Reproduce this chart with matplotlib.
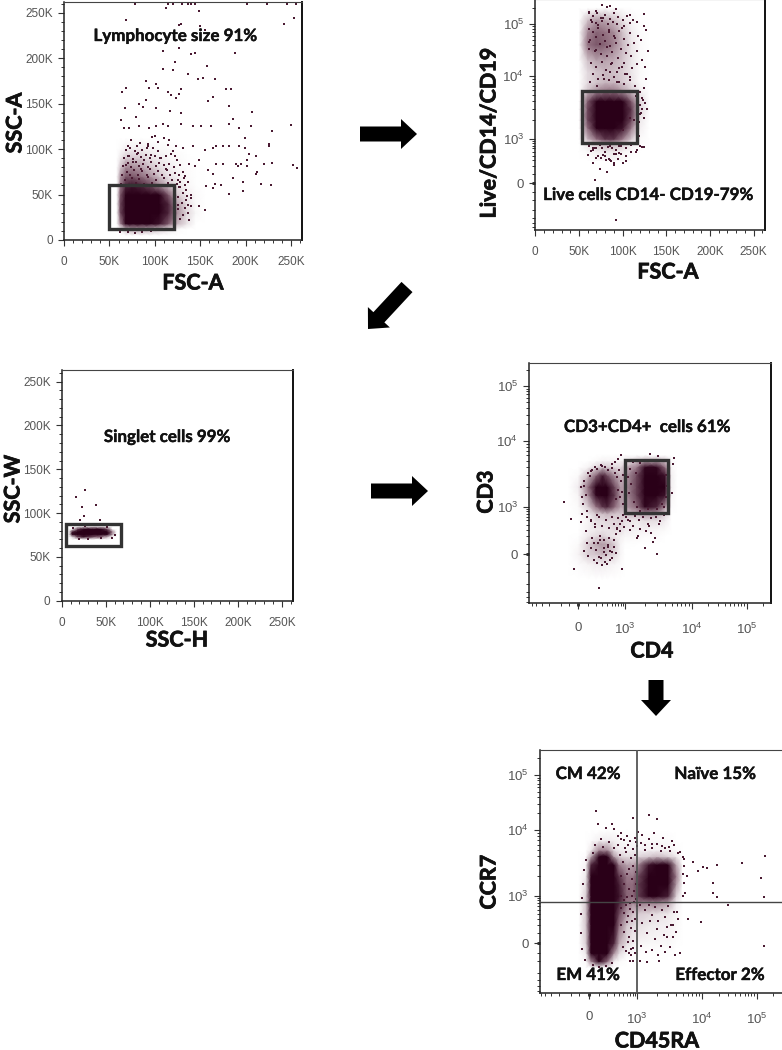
from matplotlib import pyplot as plt
from matplotlib.colors import LinearSegmentedColormap
from matplotlib.patches import FancyArrow, Rectangle
from matplotlib import patheffects
import numpy as np

W, H = 782, 1050
DOT = "#4a1a32"
CORE = "#2a0018"
LABEL = "#555555"

LIN_TICKS = [0, 50000, 100000, 150000, 200000, 250000]
LIN_LABELS = ["0", "50K", "100K", "150K", "200K", "250K"]
LIN_MINOR = list(range(0, 261000, 10000))
LOG_TICKS = [0, 1000, 10000, 100000]
LOG_LABELS = ["0", r"$\mathregular{10^{3}}$", r"$\mathregular{10^{4}}$", r"$\mathregular{10^{5}}$"]
LOG_MINOR = [-1000, -800, -600, -400, -200, -100, -10, 10, 100, 200, 300, 400, 500, 600, 700, 800, 900,
             2000, 3000, 4000, 5000, 6000, 7000, 8000, 9000,
             20000, 30000, 40000, 50000, 60000, 70000, 80000, 90000, 200000]

# panel 1, FSC-A / SSC-A (in K)
p1_gx = [58, 62, 68, 75, 85, 95, 105, 115, 125, 135, 145, 155]
p1_gy = [5, 12, 18, 30, 40, 50, 60, 70, 80, 90, 100, 112]
p1_density = [
    [0, 0, 0, 0, 0, 0, 0, 0, 0, 0, 0, 0],
    [0, 0, .3, .4, .4, .35, .25, .12, .03, 0, 0, 0],
    [0, .5, .95, 1, 1, .95, .85, .65, .35, .15, 0, 0],
    [0, .7, 1, 1, 1, 1, 1, .8, .48, .22, .04, 0],
    [0, .7, 1, 1, 1, 1, 1, .8, .42, .17, .03, 0],
    [0, .65, .95, 1, 1, .95, .9, .65, .28, .1, .03, 0],
    [0, .55, .8, .85, .8, .7, .52, .32, .15, .05, .01, 0],
    [0, .45, .65, .66, .6, .48, .32, .16, .08, .03, .01, 0],
    [0, .3, .5, .5, .44, .32, .18, .1, .04, .02, .01, 0],
    [0, .12, .28, .3, .27, .16, .1, .05, .03, .01, 0, 0],
    [0, .03, .08, .1, .1, .07, .04, .03, .01, 0, 0, 0],
    [0, 0, 0, 0, 0, 0, 0, 0, 0, 0, 0, 0],
]
p1_points = [
    (78, 260), (114, 260), (120, 260), (130, 260), (136, 260), (140, 260), (144, 260), (201, 260), (224, 260),
    (245, 260), (255, 260), (112, 255), (149, 252), (68, 242), (253, 244), (242, 238), (127, 237), (150, 236),
    (155, 231), (129, 238), (109, 208), (127, 211), (140, 205), (144, 206), (188, 206), (122, 196), (157, 191),
    (137, 183), (109, 188), (120, 187), (153, 178), (148, 177), (166, 177), (90, 175), (101, 172), (178, 166),
    (184, 166), (64, 163), (68, 167), (94, 167), (103, 167), (115, 163), (129, 166), (118, 160), (127, 161),
    (164, 157), (159, 153), (123, 156), (182, 147), (207, 141), (67, 145), (83, 150), (101, 145), (117, 142),
    (129, 140), (87, 146), (90, 154), (63, 132), (79, 135), (109, 128), (186, 133), (182, 128), (193, 123),
    (206, 126), (250, 127), (229, 120), (151, 126), (162, 126), (142, 125), (129, 128), (114, 125), (101, 126),
    (94, 123), (83, 125), (66, 123), (72, 123), (199, 112), (226, 106), (226, 103), (167, 104), (175, 103),
    (182, 104), (193, 104), (199, 101), (204, 95), (211, 93), (164, 101), (155, 99), (142, 103), (123, 103),
    (131, 101), (202, 88), (189, 84), (195, 84), (220, 84), (229, 85), (213, 75), (201, 81), (191, 81), (175, 84),
    (167, 84), (158, 77), (164, 73), (149, 88), (144, 81), (138, 84), (252, 82), (256, 79), (228, 60), (217, 62),
    (186, 68), (197, 64), (211, 73), (182, 51), (197, 54), (166, 62), (173, 60), (156, 59), (164, 57), (149, 37),
    (155, 33), (140, 49), (134, 55), (140, 37), (118, 95), (124, 88), (131, 75), (112, 78), (107, 90), (125, 66),
    (136, 64), (128, 58), (115, 105), (120, 98), (133, 70), (110, 112), (104, 108), (128, 82), (122, 92), (116, 110),
    (70, 104), (74, 110), (78, 98), (84, 107), (91, 101), (97, 113), (72, 92), (82, 96), (88, 88), (96, 94),
    (68, 82), (76, 86), (85, 78), (100, 115), (93, 106),
    (63, 62), (67, 66), (71, 61), (75, 68), (79, 63), (83, 67), (88, 62), (92, 69), (97, 63), (101, 66), (106, 61),
    (110, 68), (115, 63), (119, 66), (124, 62), (128, 64), (133, 61), (64, 72), (69, 75), (73, 71), (77, 77),
    (82, 72), (86, 76), (91, 71), (95, 78), (99, 73), (104, 76), (108, 71), (113, 77), (117, 72), (122, 74),
    (127, 71), (132, 68), (65, 81), (70, 85), (74, 80), (79, 86), (83, 81), (87, 84), (92, 80), (96, 86), (101, 81),
    (105, 85), (110, 82), (116, 84), (121, 80), (66, 90), (71, 93), (76, 89), (80, 95), (85, 91), (90, 94), (95, 90),
    (100, 93), (106, 90), (112, 92), (68, 99), (73, 101), (80, 103), (86, 99), (92, 104), (98, 101), (104, 98),
    (127, 58), (131, 52), (135, 48), (126, 47), (130, 41), (136, 38), (126, 34), (131, 28), (137, 30), (128, 23),
    (122, 20), (125, 38), (134, 44), (140, 46), (138, 22), (133, 35), (70, 9), (78, 8), (86, 9), (96, 10), (62, 9),
    (105, 12),
]

# panel 2, FSC-A / Live-CD14-CD19 (x in K)
p2_gx = [50, 60, 70, 80, 90, 100, 110, 120, 130]
p2_gy = [300, 500, 800, 1000, 1500, 2000, 3000, 4000, 6000, 8000, 12000, 20000, 40000, 70000, 120000, 200000]
p2_density = [
    [0, 0, .02, .05, .05, .03, 0, 0, 0],
    [0, .03, .08, .12, .12, .06, .02, 0, 0],
    [0, .15, .3, .4, .4, .3, .1, .02, 0],
    [0, .35, .6, .75, .75, .55, .3, .03, 0],
    [0, .6, .9, 1, 1, .85, .55, .08, 0],
    [0, .7, 1, 1, 1, 1, .7, .12, 0],
    [0, .7, 1, 1, 1, 1, .75, .2, .02],
    [0, .65, .9, 1, 1, .9, .65, .2, .02],
    [0, .3, .45, .55, .55, .42, .28, .08, 0],
    [0, .2, .3, .35, .35, .28, .15, .03, 0],
    [0, .2, .3, .35, .32, .26, .14, .03, 0],
    [0, .32, .42, .42, .38, .3, .14, .03, 0],
    [0, .58, .66, .62, .52, .35, .14, .03, 0],
    [0, .5, .62, .58, .5, .32, .1, .02, 0],
    [0, .32, .45, .4, .32, .15, .05, .01, 0],
    [0, 0, .01, .02, .02, .01, 0, 0, 0],
]
p2_points = [
    (76, 230000), (86, 225000), (92, 195000), (82, 210000), (70, 180000), (62, 160000), (124, 155000), (109, 150000),
    (116, 110000), (124, 90000), (127, 75000), (121, 50000), (129, 30000), (126, 15000), (112, 120000), (118, 60000),
    (122, 20000), (127, 9000), (125, 6500), (120, 5500), (115, 4800), (117, 3900), (122, 4500), (126, 3800),
    (128, 3000), (120, 2500), (113, 2000), (108, 2200), (100, 1400), (96, 700), (88, 600), (83, 650), (76, 620),
    (70, 600), (66, 550), (60, 420), (92, 450), (90, 450), (80, 400), (72, 400), (115, 500), (110, 500), (104, 380),
    (98, 450), (120, 700), (122, 650), (116, 550), (124, 650), (92, -670), (68, 30), (66, 600), (64, 520), (75, 350),
    (81, 300), (87, 280), (95, 330), (104, 280), (100, 250), (90, 220), (85, 300),
    (65, 110000), (72, 95000), (78, 130000), (84, 70000), (91, 55000), (99, 85000), (106, 40000), (61, 45000),
    (69, 32000), (75, 26000), (82, 36000), (88, 18000), (96, 14000), (103, 11000), (108, 9500), (63, 8000), (71, 7000),
    (79, 9000), (86, 12000), (94, 8000),
    (62, 170000), (66, 145000), (71, 160000), (75, 130000), (80, 150000), (85, 125000), (90, 165000), (95, 135000),
    (100, 120000), (105, 145000), (64, 120000), (70, 105000), (76, 112000), (83, 100000), (89, 108000), (94, 98000),
    (101, 90000), (108, 105000), (61, 80000), (66, 70000), (72, 85000), (78, 62000), (84, 78000), (90, 58000),
    (96, 72000), (102, 52000), (108, 66000), (113, 44000), (63, 50000), (69, 56000), (74, 42000), (80, 48000),
    (86, 38000), (92, 44000), (98, 33000), (104, 28000), (110, 24000), (116, 30000), (62, 33000), (68, 30000),
    (75, 27000), (82, 24000), (88, 29000), (95, 22000), (101, 18000), (64, 18000), (70, 15000), (76, 19000),
    (81, 13000), (87, 17000), (93, 12000), (99, 15000), (105, 11000), (111, 14000), (117, 17000), (66, 11000),
    (72, 9000), (78, 10500), (84, 8500), (90, 9500), (96, 8000), (102, 7500), (108, 8500), (114, 7000), (62, 700),
    (68, 600), (74, 720), (80, 500), (86, 680), (92, 560), (98, 700), (104, 620), (110, 720), (70, 350), (78, 420),
    (84, 330), (90, 250), (96, 460), (66, 250), (74, 160), (82, 120), (118, 5000), (120, 3500), (121, 2600),
    (123, 4200), (119, 1900), (122, 3000), (125, 2200), (117, 1300), (119, 1100),
]

# panel 3, SSC-H / SSC-W (in K)
p3_gx = [8, 12, 18, 25, 35, 45, 52, 58, 62]
p3_gy = [70, 73, 76, 79, 82, 85, 88]
p3_density = [
    [0, 0, 0, 0, 0, 0, 0, 0, 0],
    [0, .2, .7, .85, .7, .6, .35, 0, 0],
    [0, 1, 1, 1, 1, 1, 1, .4, 0],
    [0, .8, 1, 1, 1, 1, 1, .5, 0],
    [0, .05, .75, 1, 1, 1, .7, 0, 0],
    [0, 0, .03, .12, .18, .15, .03, 0, 0],
    [0, 0, 0, 0, 0, 0, 0, 0, 0],
]
p3_points = [(27, 126), (16, 118), (39, 109), (23, 107), (25, 97), (21, 92), (44, 92), (31, 87), (35, 86), (27, 85),
             (60, 75), (57, 72), (13, 83), (40, 87), (52, 84), (45, 72), (20, 71), (30, 70)]

# panel 4, CD4 / CD3
p4_gx = [-100, 0, 100, 200, 300, 400, 600, 800, 1000, 1500, 2000, 3000, 4000, 5000, 6000]
p4_gy = [-300, -100, 0, 100, 200, 300, 500, 700, 1000, 1500, 2000, 3000, 4000, 5000, 6000]
p4_density = [
    [0, 0, 0, 0, 0, 0, 0, 0, 0, 0, 0, 0, 0, 0, 0],
    [0, .02, .06, .1, .1, .08, .05, .02, 0, 0, 0, 0, 0, 0, 0],
    [0, .06, .25, .3, .35, .3, .2, .05, 0, 0, 0, 0, 0, 0, 0],
    [0, .03, .25, .4, .45, .4, .25, .05, .01, 0, 0, 0, 0, 0, 0],
    [0, .01, .12, .2, .25, .18, .12, .08, .05, .04, .02, .02, 0, 0, 0],
    [0, 0, .08, .12, .14, .14, .18, .18, .1, .07, .08, .05, .03, 0, 0],
    [0, 0, .06, .18, .2, .22, .22, .25, .18, .12, .18, .18, .1, 0, 0],
    [0, .02, .1, .3, .32, .36, .3, .28, .32, .36, .45, .42, .22, 0, 0],
    [0, .03, .25, .58, .75, .8, .6, .42, .42, .62, .88, .8, .5, .02, 0],
    [0, .06, .48, .88, 1, .95, .72, .45, .45, .72, 1, 1, .85, .05, 0],
    [0, .1, .58, .95, 1, .98, .68, .45, .45, .72, 1, 1, .92, .08, 0],
    [0, .03, .32, .62, .82, .68, .45, .35, .42, .7, 1, 1, .85, .08, 0],
    [0, 0, .06, .2, .3, .28, .2, .2, .36, .55, .88, .88, .6, .04, 0],
    [0, 0, 0, .03, .06, .06, .06, .06, .1, .28, .38, .38, .28, .02, 0],
    [0, 0, 0, 0, .01, .01, .01, .02, .02, .01, .01, 0, 0, 0, 0],
]
p4_points = [
    (800, 6000), (5500, 5500), (-150, 1200), (-70, 530), (240, -500), (-40, -150), (850, -150), (3000, 0), (1500, 170),
    (2600, 130), (5000, 1600), (5200, 4500), (2400, 6200), (3100, 5800), (2000, 60), (700, 5300), (600, 4800),
    (500, 4500), (300, 4200), (150, 3600), (120, 2900), (60, 2100), (40, 1400), (90, 800), (180, 350), (260, 150),
    (340, -80), (450, -60), (520, 20), (640, 230), (780, 420), (900, 650), (1100, 500), (1300, 380), (1700, 310),
    (2100, 280), (2500, 240), (3200, 420), (3800, 650), (4400, 830), (250, -30), (330, 20), (420, 70), (170, 110),
    (80, 270), (30, 450), (560, 150), (680, 340), (210, 650), (130, 520), (1200, 300), (1600, 200), (2300, 380),
    (2800, 170), (30, 2000), (60, 2500), (80, 1500), (50, 1100), (100, 3200), (140, 3500), (180, 4000), (220, 3800),
    (280, 4300), (350, 4000), (420, 3600), (500, 3900), (600, 3300), (680, 2800), (750, 3600), (820, 2500), (900, 3000),
    (700, 1800), (620, 1300), (780, 1400), (900, 1100), (850, 1700), (40, 700), (90, 600), (130, 480), (180, 420),
    (240, 610), (300, 380), (360, 520), (430, 340), (510, 600), (570, 420), (650, 320), (700, 560), (770, 280),
    (840, 480), (930, 360), (1050, 600), (1200, 480), (1400, 620), (1650, 500), (1900, 600), (2200, 420), (2500, 560),
    (2900, 600), (3400, 480), (60, 30), (100, -20), (130, 60), (170, -60), (200, 40), (230, 110), (280, -40), (320, 60),
    (370, -10), (410, 90), (470, 30), (520, -40), (570, 70), (620, 10), (90, 120), (150, 170), (260, 200), (430, 180),
    (330, 150), (210, -90), (290, -110), (380, -100), (1050, 4500), (1200, 3800), (1300, 4700), (1450, 3300),
    (1100, 2800), (1250, 2200), (1150, 1600), (1350, 1200), (1500, 1000), (1700, 4600), (4400, 3900), (4200, 3000),
    (4300, 2100), (4100, 1400), (3900, 1000), (3600, 1100), (1700, 800), (2200, 900), (3000, 900),
]

# panel 5, CD45RA / CCR7
p5_gx = [-100, -30, 20, 100, 200, 300, 400, 600, 800, 1000, 1500, 2000, 3000, 4000, 5000, 7000]
p5_gy = [-300, -200, -100, 0, 200, 400, 700, 1000, 1500, 2000, 3000, 4000, 5000, 7000, 10000]
p5_density = [
    [0, 0, 0, .02, .02, 0, 0, 0, 0, 0, 0, 0, 0, 0, 0, 0],
    [0, .03, .5, .9, .6, .1, .03, 0, 0, 0, 0, 0, 0, 0, 0, 0],
    [0, .12, .95, 1, .95, .5, .2, .05, .02, .01, .01, .01, .01, 0, 0, 0],
    [0, .25, 1, 1, 1, .8, .4, .18, .08, .06, .04, .04, .04, .01, 0, 0],
    [0, .3, 1, 1, 1, 1, .6, .3, .2, .18, .12, .1, .08, .04, 0, 0],
    [0, .3, 1, 1, 1, 1, .7, .42, .32, .28, .22, .18, .12, .05, 0, 0],
    [0, .3, 1, 1, 1, 1, .8, .56, .5, .55, .5, .52, .4, .1, 0, 0],
    [0, .25, 1, 1, 1, 1, .85, .62, .6, .72, .9, .92, .82, .25, 0, 0],
    [0, .18, .95, 1, 1, 1, .82, .6, .6, .72, 1, 1, .98, .45, 0, 0],
    [0, .12, .95, 1, 1, 1, .75, .55, .55, .68, 1, 1, 1, .55, 0, 0],
    [0, .06, .8, 1, 1, .9, .55, .42, .42, .48, .85, 1, .95, .4, 0, 0],
    [0, .02, .4, .95, .9, .45, .25, .18, .18, .2, .28, .34, .25, .12, 0, 0],
    [0, 0, .12, .5, .5, .2, .1, .08, .08, .08, .08, .08, .06, .02, 0, 0],
    [0, 0, .02, .08, .1, .08, .05, .03, .03, .03, .03, .03, .02, 0, 0, 0],
    [0, 0, 0, 0, .01, .01, 0, 0, 0, 0, 0, 0, 0, 0, 0, 0],
]
p5_points = [
    (7250, 3300), (8700, 2400), (10300, 2800), (12400, 2700), (18700, 3000), (53000, 3200), (140000, 4000),
    (120000, 1900), (135000, 950), (16000, 1600), (16000, 1100), (19000, 950), (30000, 650), (135000, -30), (9700, 250),
    (6100, 300), (5000, 1000), (5400, 1100), (4500, -100), (3800, -120), (2200, -200), (1400, -210), (800, -200),
    (700, -190), (1100, -190), (70, 22000), (800, 16800), (1500, 18800), (2000, 15600), (260, 13000), (90, 13000),
    (1040, 9400), (1800, 9000), (1200, 8500), (2500, 7500), (3400, 6800), (600, 8000), (450, 9000), (300, 10500),
    (180, 11000), (380, 8200), (520, 7000), (950, 6500), (1300, 6000), (1700, 6200), (2400, 5800), (3100, 5600),
    (4600, 4600), (5200, 3600), (5800, 2000), (3600, 200), (4100, 450), (2900, 60), (650, -100), (720, -60),
    (420, 4200), (500, 3300), (580, 4700), (650, 2600), (720, 3800), (800, 2900), (880, 4200), (950, 2300), (450, 2000),
    (520, 1500), (600, 2200), (680, 1300), (760, 1800), (840, 1200), (920, 1500), (430, 1000), (520, 800), (610, 950),
    (700, 700), (780, 1000), (860, 750), (960, 880), (450, 550), (510, 420), (570, 640), (630, 350), (700, 510),
    (770, 260), (830, 450), (900, 300), (980, 600), (440, 200), (520, 120), (600, 250), (680, 60), (750, 170), (830, 20),
    (900, 130), (480, -40), (560, -80), (640, 10), (720, -120), (800, -50), (900, -100), (1100, 620), (1300, 480),
    (1500, 650), (1700, 380), (1900, 560), (2100, 260), (2400, 500), (2700, 340), (3000, 610), (3300, 200), (3700, 440),
    (4200, 300), (1200, 240), (1400, 110), (1600, 260), (1850, 40), (2000, 150), (2300, -30), (2600, 80), (2900, 180),
    (3200, -40), (3600, 60), (4000, 120), (1150, -30), (1350, -90), (1700, -70), (2100, -120), (2700, -90), (150, 5600),
    (220, 6500), (300, 5400), (380, 6000), (450, 7300), (540, 5300), (620, 5900), (700, 6800), (800, 5200), (880, 7500),
    (1000, 5700), (1150, 6300), (1300, 5000), (1500, 7200), (1700, 5400), (2000, 6200), (2300, 4900), (2700, 5300),
    (3200, 4800), (3700, 6000), (4300, 4500), (5000, 3900), (5300, 2900), (5000, 2200), (5200, 1600), (120, 7200),
    (60, 6000), (40, 4500), (-30, 3500), (-50, 2500), (-60, 1500), (-70, 900), (-80, 400), (-75, 100), (-65, -60),
    (-40, -180), (40, -260), (100, -290), (180, -270), (260, -230),
]

gates = [(50000, 12000, 121000, 60000), (54000, 800, 116000, 5800), (5000, 63000, 67000, 88000),
         (1000, 720, 4500, 5100)]

arrows = [(360, 134, 57, 0), (407, 287, -39, 42), (371, 491, 57, 0), (656, 680, 0, 36)]

plt.rcParams['font.family'] = ['Liberation Sans', 'DejaVu Sans']
plt.rcParams['mathtext.fontset'] = 'custom'
plt.rcParams['mathtext.rm'] = 'Liberation Sans'

density_cmap = LinearSegmentedColormap.from_list("flow", [(0, "#ffffff"), (.3, "#d4c6cd"), (.6, "#8f6c7d"), (.9, CORE), (1, CORE)])
bold = [patheffects.withStroke(linewidth=0.5, foreground="#111111")]


def biex(pos_0, pos_3, pos_4, pos_5):
    """Scale functions for a biexponential axis, from the positions of 0, 10^3, 10^4, 10^5"""
    t_0, t_3, t_4, t_5 = [np.arcsinh(v / 200) for v in (0, 1000, 10000, 100000)]
    t = [t_0 - 10, t_0, t_3, t_4, t_5, t_5 + 10]
    p = [pos_0 - 10 * (pos_3 - pos_0) / (t_3 - t_0), pos_0, pos_3, pos_4, pos_5,
         pos_5 + 10 * (pos_5 - pos_4) / (t_5 - t_4)]

    def forward(v):
        return np.interp(np.arcsinh(np.asarray(v, dtype=float) / 200), t, p)

    def inverse(u):
        return 200 * np.sinh(np.interp(u, p, t))

    return forward, inverse


def make_panel(fig, left, right, top, bottom):
    ax = fig.add_axes([left / W, 1 - bottom / H, (right - left) / W, (bottom - top) / H])
    for side in ["left", "bottom"]:
        ax.spines[side].set_linewidth(1.1)
        ax.spines[side].set_color("#222222")
    ax.spines["top"].set_linewidth(0.8)
    ax.spines["top"].set_color("#444444")
    ax.spines["right"].set_linewidth(1.4)
    ax.spines["right"].set_color("#111111")
    ax.tick_params(which="major", length=4.5, width=0.8, color="#333333", labelcolor=LABEL, labelsize=8.5)
    ax.tick_params(which="minor", length=2.2, width=0.7, color="#333333")
    return ax


def linear_axis(axis, lim):
    axis.set_ticks(LIN_TICKS, LIN_LABELS)
    axis.set_ticks(LIN_MINOR, minor=True)
    if axis.axis_name == "x":
        axis.axes.set_xlim(*lim)
    else:
        axis.axes.set_ylim(*lim)


def biex_axis(ax, name, pos, edges):
    forward, inverse = biex(*pos)
    if name == "x":
        ax.set_xscale("function", functions=(forward, inverse))
        ax.set_xlim(inverse(edges[0]), inverse(edges[1]))
        axis = ax.xaxis
    else:
        ax.set_yscale("function", functions=(forward, inverse))
        ax.set_ylim(inverse(edges[0]), inverse(edges[1]))
        axis = ax.yaxis
    axis.set_ticks(LOG_TICKS, LOG_LABELS)
    axis.set_ticks(LOG_MINOR, minor=True)
    axis.set_tick_params(which="major", labelsize=9.5)


def draw_cells(ax, gx, gy, density, points, xscale=1.0, yscale=1.0):
    ax.pcolormesh(np.array(gx) * xscale, np.array(gy) * yscale, np.array(density), shading="gouraud",
                  cmap=density_cmap, vmin=0, vmax=1, zorder=1)
    xy = np.array(points, dtype=float)
    ax.scatter(xy[:, 0] * xscale, xy[:, 1] * yscale, s=0.75, marker="s", color=DOT, linewidths=0, zorder=2)


def draw_gate(ax, gate):
    x0, y0, x1, y1 = gate
    ax.add_patch(Rectangle((x0, y0), x1 - x0, y1 - y0, fill=False, edgecolor="#333333", linewidth=2.4, zorder=3))


fig = plt.figure(figsize=(W / 100, H / 100), dpi=100)

ax1 = make_panel(fig, 64, 302, 1.5, 240)
linear_axis(ax1.xaxis, (0, 262000))
linear_axis(ax1.yaxis, (0, 262500))
draw_cells(ax1, p1_gx, p1_gy, p1_density, p1_points, 1000, 1000)
draw_gate(ax1, gates[0])

ax2 = make_panel(fig, 535.3, 765, -1, 230)
linear_axis(ax2.xaxis, (0, 263000))
biex_axis(ax2, "y", (-183, -139, -76, -24), (-230, 1))
draw_cells(ax2, p2_gx, p2_gy, p2_density, p2_points, 1000, 1)
draw_gate(ax2, gates[1])

ax3 = make_panel(fig, 61.7, 293.3, 370.3, 600.7)
linear_axis(ax3.xaxis, (0, 263000))
linear_axis(ax3.yaxis, (0, 263000))
draw_cells(ax3, p3_gx, p3_gy, p3_density, p3_points, 1000, 1000)
draw_gate(ax3, gates[2])

ax4 = make_panel(fig, 529.3, 771, 363, 603.3)
biex_axis(ax4, "x", (578.3, 625, 691.7, 746.7), (529.3, 771))
biex_axis(ax4, "y", (-554.3, -506.7, -440.7, -386), (-603.3, -363))
draw_cells(ax4, p4_gx, p4_gy, p4_density, p4_points)
draw_gate(ax4, gates[3])

ax5 = make_panel(fig, 539.7, 781.5, 750.3, 992.7)
biex_axis(ax5, "x", (589, 637.3, 702.3, 756.7), (539.7, 781.5))
biex_axis(ax5, "y", (-943.3, -896, -830, -775), (-992.7, -750.3))
draw_cells(ax5, p5_gx, p5_gy, p5_density, p5_points)
ax5.axvline(1000, color="#555555", linewidth=1.3, zorder=3)
ax5.axhline(750, color="#444444", linewidth=1.0, zorder=3)
ax5.spines["right"].set_visible(False)

for ax in [ax4, ax5]:
    ax.tick_params(axis="x", which="major", pad=9)
for ax in [ax1, ax2, ax3]:
    ax.tick_params(axis="x", which="major", pad=7)

overlay = fig.add_axes([0, 0, 1, 1], zorder=5)
overlay.set_xlim(0, W)
overlay.set_ylim(H, 0)
overlay.axis("off")

for x, y, dx, dy in arrows:
    overlay.add_patch(FancyArrow(x, y, dx, dy, width=15, head_width=30, head_length=16,
                                 length_includes_head=True, color="black", linewidth=0))

big = dict(family=["Lato", "DejaVu Sans"], fontweight="bold", color="#111111", fontsize=15.5, path_effects=bold)
xlabels = [(ax1, "FSC-A", 193, 283), (ax2, "FSC-A", 668, 272), (ax3, "SSC-H", 177, 640),
           (ax4, "CD4", 652, 651), (ax5, "CD45RA", 657, 1041)]
ylabels = [(ax1, "SSC-A", 15, 123), (ax2, "Live/CD14/CD19", 489, 133), (ax3, "SSC-W", 13, 489),
           (ax4, "CD3", 486, 492), (ax5, "CCR7", 489, 882)]
for ax, text, x, y in xlabels:
    ax.set_xlabel(text, va="center", ha="center", **big)
    ax.xaxis.set_label_coords(x, y, transform=overlay.transData)
for ax, text, x, y in ylabels:
    ax.set_ylabel(text, va="center", ha="center", **big)
    ax.yaxis.set_label_coords(x, y, transform=overlay.transData)

notes = [("Lymphocyte size 91%", 175, 36), ("Live cells CD14- CD19-79%", 648, 195), ("Singlet cells 99%", 167, 437),
         ("CD3+CD4+  cells 61%", 647, 427), ("CM 42%", 588, 774), ("Naïve 15%", 715, 774),
         ("EM 41%", 588, 975), ("Effector 2%", 720, 975)]
for text, x, y in notes:
    overlay.text(x, y, text, ha="center", va="center", family=["Lato", "DejaVu Sans"], fontweight="bold",
                 fontsize=12.2, color="#111111", path_effects=[patheffects.withStroke(linewidth=0.3, foreground="#111111")])

fig.savefig("out.png", dpi=100)
